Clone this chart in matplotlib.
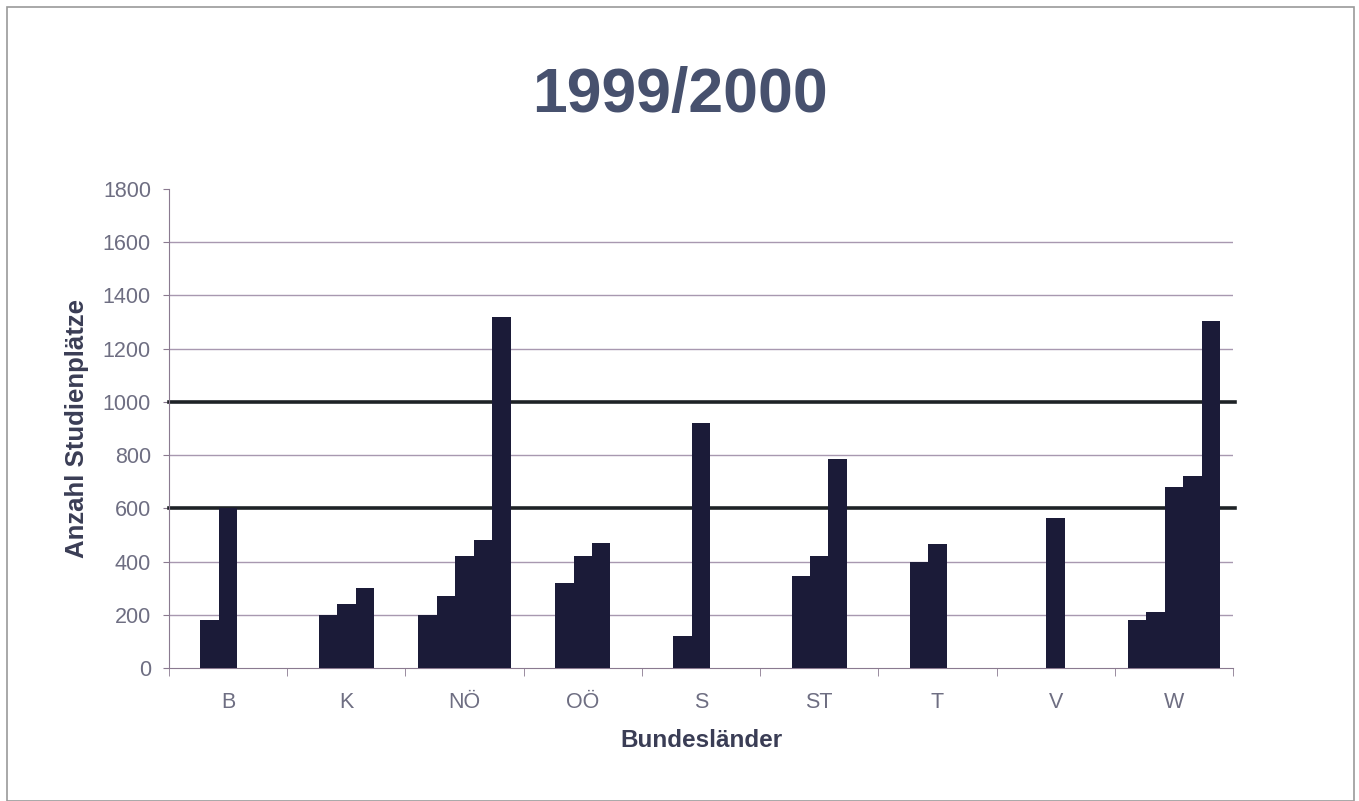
import numpy as np
import matplotlib.pyplot as plt
from matplotlib.patches import Rectangle

# Bundesländer und Studienplätze je Studiengang (bis zu 5 Balken pro Land)
laender = ["B", "K", "NÖ", "OÖ", "S", "ST", "T", "V", "W"]
nan = np.nan
serie_1 = [nan, nan, 200, nan, nan, nan, nan, nan, 180]
serie_2 = [180, 200, 270, 320, 120, 345, 400, nan, 210]
serie_3 = [600, 240, 420, 420, 920, 420, 465, 565, 680]
serie_4 = [nan, 300, 480, 470, nan, 785, nan, nan, 720]
serie_5 = [nan, nan, 1320, nan, nan, nan, nan, nan, 1305]
y_ticks = [0, 200, 400, 600, 800, 1000, 1200, 1400, 1600, 1800]
grenzen = [600, 1000]

serien = [serie_1, serie_2, serie_3, serie_4, serie_5]

plt.rcParams["font.family"] = ["Liberation Sans", "DejaVu Sans"]

fig = plt.figure(figsize=(13.59, 8.01), dpi=100)
ax = fig.add_axes([169 / 1359, 1 - 668 / 801, 1064 / 1359, 479 / 801])

# Rahmen um die Grafik
fig.patches.append(Rectangle((7 / 1359, 0.0), 1347 / 1359, 1 - 7 / 801,
                             transform=fig.transFigure, fill=False,
                             edgecolor="#9a9a9a", linewidth=1.2))

x = np.arange(len(laender))
breite = 1 / 6.4
for i, werte in enumerate(serien):
    ax.bar(x + (i - 2) * breite, werte, width=breite, color="#1b1b38",
           edgecolor="none", zorder=3)

# Gitter und Grenzlinien
for y in y_ticks[1:-1]:
    if y in grenzen:
        continue
    ax.axhline(y, color="#a898b0", linewidth=1.0, zorder=1)
for y in grenzen:
    ax.plot([-0.5, 8.52], [y, y], color="#1e2226", linewidth=2.6,
            zorder=2, clip_on=False)

ax.set_xlim(-0.5, 8.5)
ax.set_ylim(0, 1800)
ax.set_yticks(y_ticks)
ax.set_yticklabels([str(v) for v in y_ticks])
ax.set_xticks(x)
ax.set_xticklabels(laender)
ax.set_xticks(np.arange(-0.5, 9.0, 1.0), minor=True)

for s in ["top", "right"]:
    ax.spines[s].set_visible(False)
ax.spines["left"].set_color("#8a7a90")
ax.spines["bottom"].set_color("#8a7a90")

ax.tick_params(axis="y", colors="#8a7a90", labelcolor="#6e6e82",
               labelsize=15.5, length=4, pad=9)
ax.tick_params(axis="x", which="major", length=0, labelcolor="#6e6e82",
               labelsize=15.5, pad=17)
ax.tick_params(axis="x", which="minor", length=6, color="#8a7a90")

ax.set_ylabel("Anzahl Studienplätze", fontsize=18.5, fontweight="bold",
              color="#3a3d55", labelpad=10)
ax.set_xlabel("Bundesländer", fontsize=17.5, fontweight="bold",
              color="#3a3d55", labelpad=12)

fig.text(0.5, 1 - 112 / 801, "1999/2000", ha="center", va="baseline",
         fontsize=45, fontweight="bold", color="#47516e")

fig.savefig("out.png", dpi=100, facecolor="white")
